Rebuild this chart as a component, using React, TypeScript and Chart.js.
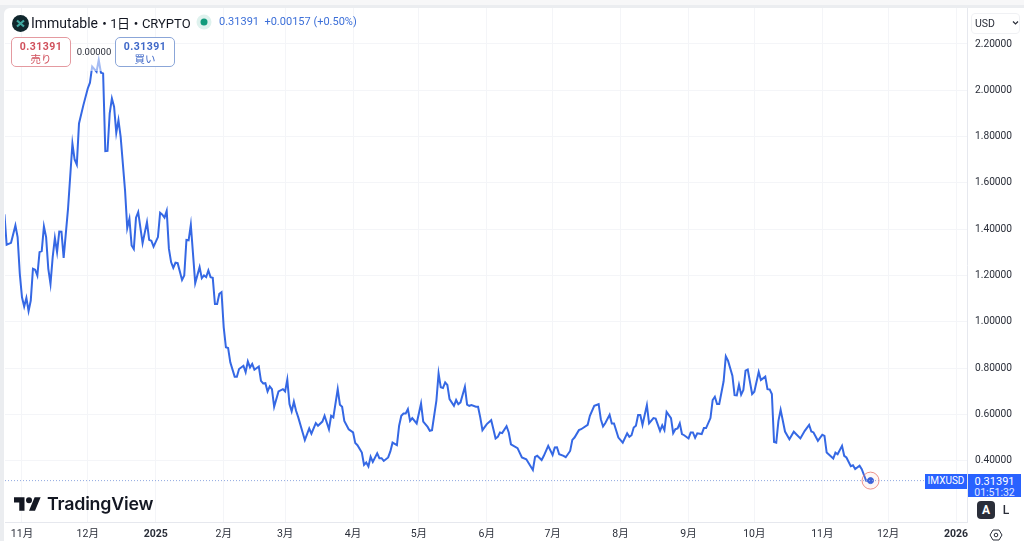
import { useEffect, useRef } from "react";
import { Chart, registerables } from "chart.js";

Chart.register(...registerables);

// days counted from 2024-11-01
const days = [
  -8, -7, -5, -3, -2, -1, 0, 1, 2, 3, 4, 5, 6, 7, 8, 9, 10, 11, 12, 13, 14, 15, 16, 17, 18, 19, 21, 23, 24, 25,
  26, 28, 30, 31, 32, 34, 35, 36, 37, 38, 39, 40, 41, 42, 43, 44, 45, 47, 48, 49, 50, 51, 52, 53, 55, 57, 58, 59,
  60, 62, 63, 64, 65, 66, 67, 68, 69, 70, 71, 73, 74, 75, 76, 77, 79, 81, 82, 83, 84, 85, 86, 87, 88, 89, 90, 91,
  92, 93, 94, 95, 97, 98, 99, 101, 102, 103, 104, 105, 106, 108, 109, 110, 111, 112, 113, 114, 115, 117, 119, 120,
  121, 122, 123, 124, 125, 126, 128, 129, 131, 132, 134, 135, 137, 138, 140, 141, 142, 144, 145, 146, 147, 149,
  151, 152, 153, 155, 156, 157, 158, 159, 160, 162, 163, 164, 165, 167, 168, 169, 171, 172, 173, 174, 175, 176,
  177, 178, 180, 182, 183, 185, 186, 187, 189, 190, 191, 192, 193, 194, 195, 197, 198, 199, 200, 202, 203, 204,
  205, 207, 208, 209, 210, 212, 214, 215, 216, 217, 218, 219, 221, 222, 223, 226, 228, 230, 233, 234, 235, 237,
  238, 240, 242, 243, 244, 245, 247, 248, 250, 251, 252, 254, 255, 258, 259, 261, 263, 264, 265, 266, 268, 269,
  270, 272, 274, 276, 277, 278, 279, 280, 281, 282, 283, 285, 286, 288, 289, 291, 292, 293, 294, 296, 297, 298,
  299, 300, 301, 302, 304, 305, 306, 307, 308, 310, 311, 312, 314, 315, 316, 317, 318, 320, 321, 322, 324, 325,
  326, 327, 328, 329, 330, 331, 333, 334, 336, 337, 339, 340, 341, 342, 343, 344, 345, 346, 348, 350, 352, 355,
  357, 359, 360, 361, 363, 365, 366, 367, 370, 371, 372, 374, 375, 376, 378, 379, 380, 382, 383, 385, 387,
];

const prices = [
  1.464, 1.333, 1.341, 1.416, 1.366, 1.207, 1.106, 1.066, 1.103, 1.046, 1.092, 1.229, 1.225, 1.2, 1.301, 1.305, 1.412, 1.366, 1.229, 1.164, 1.279, 1.362, 1.301, 1.39, 1.389, 1.276, 1.489, 1.77, 1.701, 1.679,
  1.857, 1.936, 2.008, 2.033, 2.102, 2.08, 2.131, 2.076, 2.073, 1.737, 1.738, 1.9, 1.965, 1.929, 1.816, 1.871, 1.799, 1.568, 1.405, 1.445, 1.33, 1.314, 1.45, 1.474, 1.34, 1.431, 1.354, 1.35,
  1.325, 1.366, 1.471, 1.463, 1.45, 1.479, 1.316, 1.258, 1.233, 1.255, 1.253, 1.181, 1.2, 1.354, 1.352, 1.419, 1.167, 1.236, 1.188, 1.2, 1.193, 1.222, 1.193, 1.19, 1.077, 1.077, 1.121, 1.128,
  0.976, 0.89, 0.887, 0.825, 0.763, 0.763, 0.796, 0.81, 0.782, 0.829, 0.803, 0.818, 0.793, 0.807, 0.745, 0.734, 0.735, 0.699, 0.721, 0.709, 0.633, 0.699, 0.709, 0.699,
  0.75, 0.645, 0.613, 0.655, 0.616, 0.587, 0.522, 0.489, 0.539, 0.517, 0.562, 0.551, 0.569, 0.594, 0.536, 0.594, 0.587, 0.709, 0.642, 0.633, 0.572, 0.536,
  0.522, 0.476, 0.467, 0.435, 0.382, 0.392, 0.375, 0.417, 0.395, 0.432, 0.411, 0.411, 0.399, 0.414, 0.44, 0.478, 0.467, 0.551, 0.594, 0.604, 0.604, 0.623,
  0.572, 0.584, 0.561, 0.647, 0.569, 0.546, 0.529, 0.532, 0.659, 0.777, 0.717, 0.714, 0.738, 0.727, 0.666, 0.637, 0.662, 0.644, 0.652, 0.719, 0.642, 0.637,
  0.64, 0.633, 0.633, 0.587, 0.532, 0.558, 0.575, 0.536, 0.496, 0.503, 0.522, 0.519, 0.549, 0.522, 0.471, 0.454, 0.414, 0.406, 0.36, 0.416, 0.421, 0.403,
  0.421, 0.464, 0.425, 0.457, 0.458, 0.428, 0.421, 0.415, 0.442, 0.49, 0.5, 0.532, 0.536, 0.555, 0.594, 0.637, 0.644, 0.579, 0.548, 0.562, 0.598, 0.561,
  0.561, 0.5, 0.478, 0.518, 0.503, 0.51, 0.543, 0.551, 0.597, 0.597, 0.555, 0.64, 0.561, 0.584, 0.582, 0.529, 0.553, 0.532, 0.611, 0.584, 0.519, 0.536,
  0.539, 0.561, 0.515, 0.51, 0.496, 0.522, 0.522, 0.499, 0.518, 0.515, 0.541, 0.541, 0.584, 0.662, 0.676, 0.645, 0.645, 0.743, 0.851, 0.832, 0.767, 0.683,
  0.682, 0.728, 0.685, 0.705, 0.789, 0.794, 0.688, 0.698, 0.783, 0.748, 0.763, 0.709, 0.708, 0.688, 0.481, 0.478, 0.572, 0.62, 0.526, 0.493, 0.525, 0.496,
  0.529, 0.555, 0.526, 0.522, 0.486, 0.512, 0.507, 0.435, 0.409, 0.435, 0.428, 0.464, 0.421, 0.414, 0.376, 0.38, 0.364, 0.378, 0.363, 0.313, 0.31391,
];

const monthDays = [0, 30, 61, 92, 120, 151, 181, 212, 242, 273, 304, 334, 365, 395, 426];
const monthLabels = ["11月", "12月", "2025", "2月", "3月", "4月", "5月", "6月", "7月", "8月", "9月", "10月", "11月", "12月", "2026"];
const priceTicks = [0.4, 0.6, 0.8, 1.0, 1.2, 1.4, 1.6, 1.8, 2.0, 2.2];

const lastPrice = 0.31391;
const xMin = -7.75;
const xMax = 431;

const uiFont = "Roboto, 'Noto Sans CJK JP', sans-serif";
const cjkFont = "'Noto Sans', 'Noto Sans CJK JP', sans-serif";
const lineBlue = "#3568e4";

function box(left: number, top: number, width: number, height: number, extra: React.CSSProperties = {}): React.CSSProperties {
  return { position: "absolute", left, top, width, height, boxSizing: "border-box", ...extra };
}

// chart.js reserves room for the outer tick labels, here the plot area has to stay fixed
function noMargins(scale: any) {
  scale.paddingLeft = 0;
  scale.paddingRight = 0;
  scale.paddingTop = 0;
  scale.paddingBottom = 0;
}

export default function App() {
  const canvasRef = useRef<HTMLCanvasElement>(null);

  useEffect(() => {
    if (!canvasRef.current) return;

    const chart = new Chart(canvasRef.current, {
      type: "line",
      data: {
        datasets: [
          {
            // ring around the last price
            data: [{ x: days[days.length - 1], y: lastPrice }],
            borderColor: "rgba(232,120,110,0.8)",
            backgroundColor: "rgba(232,120,110,0.06)",
            pointRadius: 8.5,
            pointBorderWidth: 1,
            showLine: false,
          },
          {
            data: [
              { x: xMin, y: lastPrice },
              { x: xMax, y: lastPrice },
            ],
            borderColor: "#8fa8e0",
            borderWidth: 1,
            borderDash: [1, 2],
            pointRadius: 0,
          },
          {
            data: days.map((d, i) => ({ x: d, y: prices[i] })),
            borderColor: lineBlue,
            borderWidth: 2,
            pointRadius: 0,
            tension: 0,
          },
          {
            data: [{ x: days[days.length - 1], y: lastPrice }],
            borderColor: "#2f5fe0",
            backgroundColor: "#2f5fe0",
            pointRadius: 3,
            showLine: false,
          },
        ],
      },
      options: {
        responsive: false,
        animation: false,
        layout: { autoPadding: false, padding: { left: 5, top: 8, right: 0, bottom: 0 } },
        plugins: { legend: { display: false }, tooltip: { enabled: false } },
        scales: {
          x: {
            type: "linear",
            min: xMin,
            max: xMax,
            afterFit: (scale) => {
              scale.height = 18.5;
              noMargins(scale);
            },
            afterBuildTicks: (scale) => {
              scale.ticks = monthDays.map((value) => ({ value }));
            },
            grid: { color: "#f4f5f8", drawTicks: false },
            border: { color: "#e6e8ee" },
            ticks: {
              autoSkip: false,
              maxRotation: 0,
              padding: 6,
              color: "#2a2e39",
              font: (ctx) => ({
                family: uiFont,
                size: 10.5,
                weight: monthLabels[ctx.index]?.length === 4 ? "bold" : "normal",
              }),
              callback: (_value, index) => monthLabels[index],
            },
          },
          y: {
            position: "right",
            min: 0.133,
            max: 2.3555,
            afterFit: (scale) => {
              scale.width = 57;
              noMargins(scale);
            },
            afterBuildTicks: (scale) => {
              scale.ticks = priceTicks.map((value) => ({ value }));
            },
            grid: { color: "#f4f5f8", drawTicks: false },
            border: { color: "#e6e8ee" },
            ticks: {
              padding: 8,
              color: "#2a2e39",
              font: { family: uiFont, size: 10.2 },
              callback: (value) => Number(value).toFixed(5),
            },
          },
        },
      },
    });

    return () => {
      chart.destroy();
    };
  }, []);

  return (
    <div style={box(0, 0, 1024, 541, { background: "#ebedf0", overflow: "hidden", fontFamily: uiFont })}>
      <div style={box(0, 0, 1024, 5, { background: "#f7f7f8" })} />
      <div style={box(4, 8, 1020, 533, { background: "#fff", borderTopLeftRadius: 6 })} />
      <canvas ref={canvasRef} width={1024} height={541} style={{ position: "absolute", left: 0, top: 0, display: "block" }} />

      {/* legend fades the line where it runs behind the buttons */}
      <div style={box(85, 55, 24, 16, { background: "rgba(255,255,255,0.55)" })} />

      <svg style={box(12, 15, 17, 17)} viewBox="0 0 17 17">
        <circle cx="8.5" cy="8.5" r="8.5" fill="#10272d" />
        <path d="M5 5.5 L12 11.5 M12 5.5 L5 11.5" stroke="#3fa7a0" strokeWidth="2.2" />
      </svg>
      <div style={box(31, 13, 165, 20, { fontSize: 14, lineHeight: "20px", color: "#131722", whiteSpace: "nowrap" })}>
        Immutable
        <span style={{ fontSize: 13, letterSpacing: -0.6 }}>・1日・</span>
        <span style={{ fontSize: 13 }}>CRYPTO</span>
      </div>
      <svg style={box(196, 14, 16, 16)} viewBox="0 0 16 16">
        <circle cx="8" cy="8" r="7.5" fill="#dff2ee" />
        <circle cx="8" cy="8" r="3.5" fill="#129b7c" />
      </svg>
      <div style={box(219, 14, 150, 16, { fontSize: 11, lineHeight: "16px", color: "#3c6fd8", whiteSpace: "nowrap" })}>
        0.31391&nbsp; +0.00157 (+0.50%)
      </div>

      <div style={box(11, 37, 60, 30, { border: "1px solid #e49aa0", borderRadius: 5, background: "#fff", textAlign: "center", fontSize: 10.5, lineHeight: "13px", paddingTop: 2, color: "#d0505c" })}>
        <div style={{ fontWeight: 700, letterSpacing: 0.5 }}>0.31391</div>
        <div style={{ fontFamily: cjkFont }}>売り</div>
      </div>
      <div style={box(73, 45, 42, 14, { textAlign: "center", fontSize: 9.5, lineHeight: "14px", color: "#2a2e39" })}>0.00000</div>
      <div style={box(115, 37, 60, 30, { border: "1px solid #8ba6d8", borderRadius: 5, background: "#fff", textAlign: "center", fontSize: 10.5, lineHeight: "13px", paddingTop: 2, color: "#3f68c8" })}>
        <div style={{ fontWeight: 700, letterSpacing: 0.5 }}>0.31391</div>
        <div style={{ fontFamily: cjkFont }}>買い</div>
      </div>

      <div style={box(971, 13, 49, 21, { border: "1px solid #f0f1f4", borderRadius: 4, fontSize: 10.5, lineHeight: "19px", paddingLeft: 3, color: "#2a2e39" })}>USD</div>
      <svg style={box(1012, 20, 7, 6)} viewBox="0 0 7 6">
        <path d="M1 1.5 L3.5 4 L6 1.5" fill="none" stroke="#2a2e39" strokeWidth="1.2" />
      </svg>

      <svg style={box(14, 497, 27, 14)} viewBox="0 4 36 18">
        <path d="M14 22H7V11H0V4h14v18zM28 22h-8l7.5-18h8L28 22z" fill="#131722" />
        <circle cx="20" cy="8" r="4" fill="#131722" />
      </svg>
      <div style={box(47, 491, 115, 26, { fontFamily: "Inter, sans-serif", fontSize: 17.8, fontWeight: 600, lineHeight: "26px", color: "#131722", letterSpacing: -0.2 })}>TradingView</div>

      <div style={box(925, 474, 42, 14.5, { background: "#2962ff", color: "#fff", fontSize: 10, lineHeight: "14.5px", textAlign: "center" })}>IMXUSD</div>
      <div style={box(968, 474, 53, 23, { background: "#2962ff", color: "#fff", fontSize: 10.5, lineHeight: "12px", textAlign: "center", paddingTop: 2, overflow: "hidden" })}>
        <div style={{ fontSize: 11 }}>0.31391</div>
        <div style={{ opacity: 0.85, marginTop: -1 }}>01:51:32</div>
      </div>

      <div style={box(977, 501, 18, 18, { background: "#2a2e39", borderRadius: 4, color: "#fff", fontSize: 12, fontWeight: 700, lineHeight: "18px", textAlign: "center" })}>A</div>
      <div style={box(997, 501, 18, 18, { color: "#2a2e39", fontSize: 12, fontWeight: 500, lineHeight: "18px", textAlign: "center" })}>L</div>
      <svg style={box(989, 529, 14, 12)} viewBox="0 0 14 12">
        <path d="M4 1 H10 L13 6 L10 11 H4 L1 6 Z" fill="none" stroke="#2a2e39" strokeWidth="1" />
        <circle cx="7" cy="6" r="1.8" fill="none" stroke="#2a2e39" strokeWidth="1" />
      </svg>
    </div>
  );
}
